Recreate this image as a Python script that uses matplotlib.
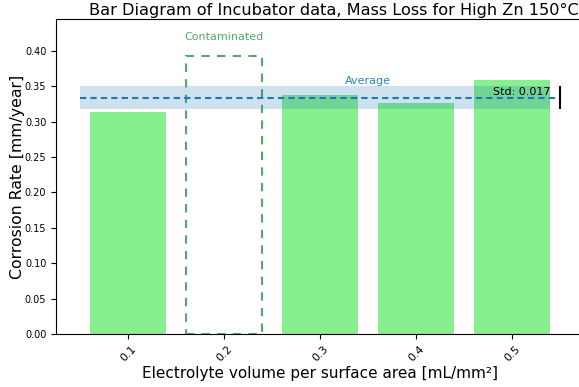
import matplotlib.pyplot as plt
import numpy as np

volumes = ['0.1', '0.2', '0.3', '0.4', '0.5']
rates = [0.314, 0.0, 0.337, 0.326, 0.359]
contaminated = [False, True, False, False, False]
contaminated_height = 0.392

valid = [r for r, c in zip(rates, contaminated) if not c]
average = np.mean(valid)
std = np.std(valid)

fig = plt.figure(figsize=(5.79, 3.87), dpi=100)
ax = fig.add_axes([0.0967, 0.137, 0.912, 0.814])

x = np.arange(len(volumes))
for i in x:
    if contaminated[i]:
        ax.bar(i, contaminated_height, width=0.8, fill=False, edgecolor='#55a868',
               linestyle=(0, (4, 3.5)), linewidth=1.5)
        ax.text(i, contaminated_height + 0.02, 'Contaminated', color='#55a868',
                ha='center', va='bottom', fontsize=8)
    else:
        ax.bar(i, rates[i], width=0.8, color='#86ef8e')

ax.fill_between([-0.5, 4.4], average - std, average + std, color='#1f77b4', alpha=0.22, linewidth=0)
ax.plot([-0.5, 4.5], [average, average], color='#1f77b4', linestyle=(0, (3, 2)), linewidth=1.5)
ax.errorbar(4.5, average, yerr=std, color='black', capsize=0, linewidth=1.5)
ax.text(2.5, average + std, 'Average', color='#2a85c0', ha='center', va='bottom', fontsize=8)
ax.text(4.4, average + 0.0005, 'Std: %.3f' % std, color='black', ha='right', va='bottom', fontsize=8)

ax.set_xlim(-0.75, 4.75)
ax.set_ylim(0, 0.445)
ax.set_xticks(x)
ax.set_xticklabels(volumes, rotation=45)
ax.set_yticks(np.arange(0, 0.41, 0.05))
ax.tick_params(axis='y', labelsize=7)
ax.tick_params(axis='x', labelsize=8)
ax.set_xlabel('Electrolyte volume per surface area [mL/mm²]', fontsize=11, labelpad=2)
ax.set_ylabel('Corrosion Rate [mm/year]', fontsize=11.3, labelpad=0)
fig.text(334 / 579, 0.953, 'Bar Diagram of Incubator data, Mass Loss for High Zn 150°C',
         fontsize=11.6, ha='center', va='bottom')

plt.savefig('out.png')
